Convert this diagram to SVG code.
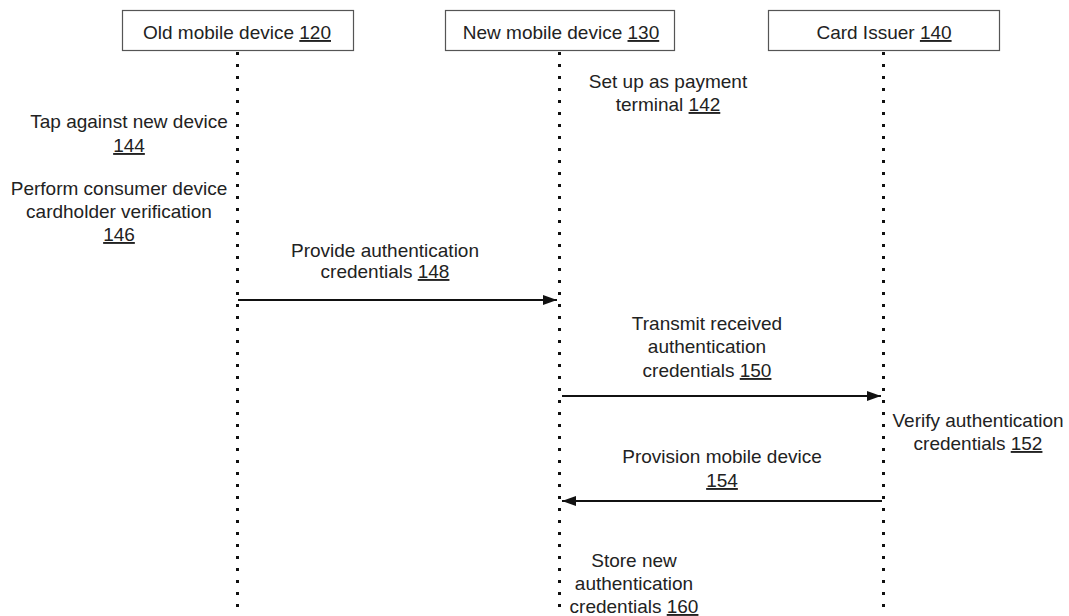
<svg xmlns="http://www.w3.org/2000/svg" width="1069" height="616" viewBox="0 0 1069 616">
<style>
text{font-family:"Liberation Sans",Arial,sans-serif;font-size:19px;fill:#222;text-anchor:middle}
.u{text-decoration:underline}
.box{fill:#fff;stroke:#555;stroke-width:1.2}
.life{stroke:#111;stroke-width:3;stroke-dasharray:3 9}
.msg{stroke:#111;stroke-width:2;fill:none}
</style>
<defs>
<marker id="ah" viewBox="0 0 14 10" refX="14" refY="5" markerWidth="14" markerHeight="10" markerUnits="userSpaceOnUse" orient="auto">
<path d="M0,0 L14,5 L0,10 z" fill="#111"/>
</marker>
</defs>
<g id="lifelines">
<line class="life" x1="237.5" y1="52" x2="237.5" y2="616"/>
<line class="life" x1="559.5" y1="52" x2="559.5" y2="616"/>
<line class="life" x1="883.5" y1="52" x2="883.5" y2="616"/>
</g>
<g id="old-device">
<rect class="box" x="122.5" y="10.5" width="231" height="40"/>
<text x="237" y="39">Old mobile device <tspan class="u">120</tspan></text>
</g>
<g id="new-device">
<rect class="box" x="445.5" y="10.5" width="229" height="40"/>
<text x="561" y="39">New mobile device <tspan class="u">130</tspan></text>
</g>
<g id="card-issuer">
<rect class="box" x="768.5" y="10.5" width="231" height="40"/>
<text x="884" y="39">Card Issuer <tspan class="u">140</tspan></text>
</g>
<g id="connectors">
<line class="msg" x1="238" y1="300" x2="557" y2="300" marker-end="url(#ah)"/>
<line class="msg" x1="562" y1="396" x2="881" y2="396" marker-end="url(#ah)"/>
<line class="msg" x1="882" y1="501" x2="562" y2="501" marker-end="url(#ah)"/>
</g>
<g id="step-142">
<text x="668" y="88">Set up as payment</text>
<text x="668" y="111">terminal <tspan class="u">142</tspan></text>
</g>
<g id="step-144">
<text x="129" y="128">Tap against new device</text>
<text x="129" y="152"><tspan class="u">144</tspan></text>
</g>
<g id="step-146">
<text x="119" y="195">Perform consumer device</text>
<text x="119" y="218">cardholder verification</text>
<text x="119" y="241"><tspan class="u">146</tspan></text>
</g>
<g id="step-148">
<text x="385" y="257">Provide authentication</text>
<text x="385" y="278">credentials <tspan class="u">148</tspan></text>
</g>
<g id="step-150">
<text x="707" y="330">Transmit received</text>
<text x="707" y="353">authentication</text>
<text x="707" y="377">credentials <tspan class="u">150</tspan></text>
</g>
<g id="step-152">
<text x="978" y="427">Verify authentication</text>
<text x="978" y="450">credentials <tspan class="u">152</tspan></text>
</g>
<g id="step-154">
<text x="722" y="463">Provision mobile device</text>
<text x="722" y="487"><tspan class="u">154</tspan></text>
</g>
<g id="step-160">
<text x="634" y="567">Store new</text>
<text x="634" y="590">authentication</text>
<text x="634" y="613">credentials <tspan class="u">160</tspan></text>
</g>
</svg>
